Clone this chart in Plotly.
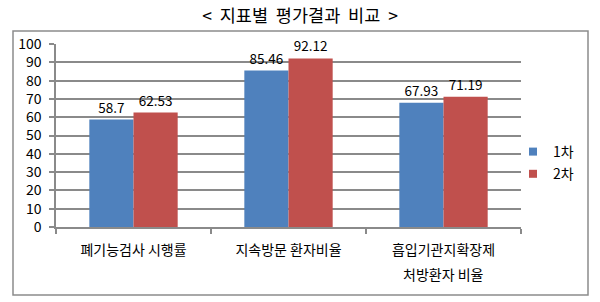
import plotly.graph_objects as go

categories = ["폐기능검사 시행률", "지속방문 환자비율", "흡입기관지확장제"]
second_line = ["", "", "처방환자 비율"]
series_names = ["1차", "2차"]
round1 = [58.7, 85.46, 67.93]
round2 = [62.53, 92.12, 71.19]
colors = ["#4F81BD", "#C0504D"]
y_ticks = list(range(0, 101, 10))

FONT = "Noto Sans CJK KR, Malgun Gothic, sans-serif"
GRID = "#8a8a8a"

fig = go.Figure()
for name, vals, col in zip(series_names, [round1, round2], colors):
    fig.add_trace(go.Bar(
        x=categories, y=vals, name=name, marker=dict(color=col, line=dict(width=0)),
        text=[str(v) for v in vals], textposition="outside", cliponaxis=False,
        textfont=dict(size=13.5, color="#000000", family=FONT),
        showlegend=False,
    ))
for name, col in zip(series_names, colors):
    fig.add_trace(go.Scatter(
        x=[None], y=[None], mode="markers", name=name, legendgroup=name,
        marker=dict(symbol="square", size=8, color=col),
    ))

for cat, extra in zip(categories, second_line):
    if extra:
        fig.add_annotation(x=cat, xref="x", y=(227 - 274) / 183, yref="paper",
                           text=extra, showarrow=False, yanchor="middle",
                           font=dict(size=14, color="#000000", family=FONT))

fig.add_shape(type="rect", xref="paper", yref="paper",
              x0=(13 - 56) / 465, x1=(588 - 56) / 465,
              y0=(227 - 295) / 183, y1=(227 - 31) / 183,
              line=dict(color="#8c8c8c", width=1.5), layer="below")

fig.update_layout(
    width=600, height=302,
    margin=dict(l=56, r=79, t=44, b=75),
    paper_bgcolor="white", plot_bgcolor="white",
    font=dict(family=FONT, size=13, color="#000000"),
    title=dict(text="<  지표별  평가결과  비교  >", x=0.5, xref="container", xanchor="center",
               y=1 - 16 / 302, yref="container", yanchor="middle",
               font=dict(size=17.5, family=FONT, color="#000000")),
    barmode="group", bargap=0.43, bargroupgap=0,
    legend=dict(x=(513 - 56) / 465, xanchor="left", y=(227 - 136) / 183, yanchor="top",
                font=dict(size=14, family=FONT), itemwidth=30, tracegroupgap=1,
                traceorder="grouped", bgcolor="rgba(0,0,0,0)"),
    xaxis=dict(showline=True, linecolor=GRID, linewidth=1.5, ticks="outside",
               tickson="boundaries", ticklen=5, tickcolor=GRID, tickwidth=1.5,
               ticklabelstandoff=9, showgrid=False,
               tickfont=dict(size=14, family=FONT, color="#000000")),
    yaxis=dict(range=[0, 100], tickvals=y_ticks, showline=True, linecolor=GRID,
               linewidth=1.5, ticks="outside", ticklen=5, tickcolor=GRID, tickwidth=1.5,
               showgrid=True, gridcolor=GRID, gridwidth=1.5, zeroline=False,
               ticklabelstandoff=5,
               tickfont=dict(size=14, family=FONT, color="#000000")),
)

fig.write_html("out.html")
